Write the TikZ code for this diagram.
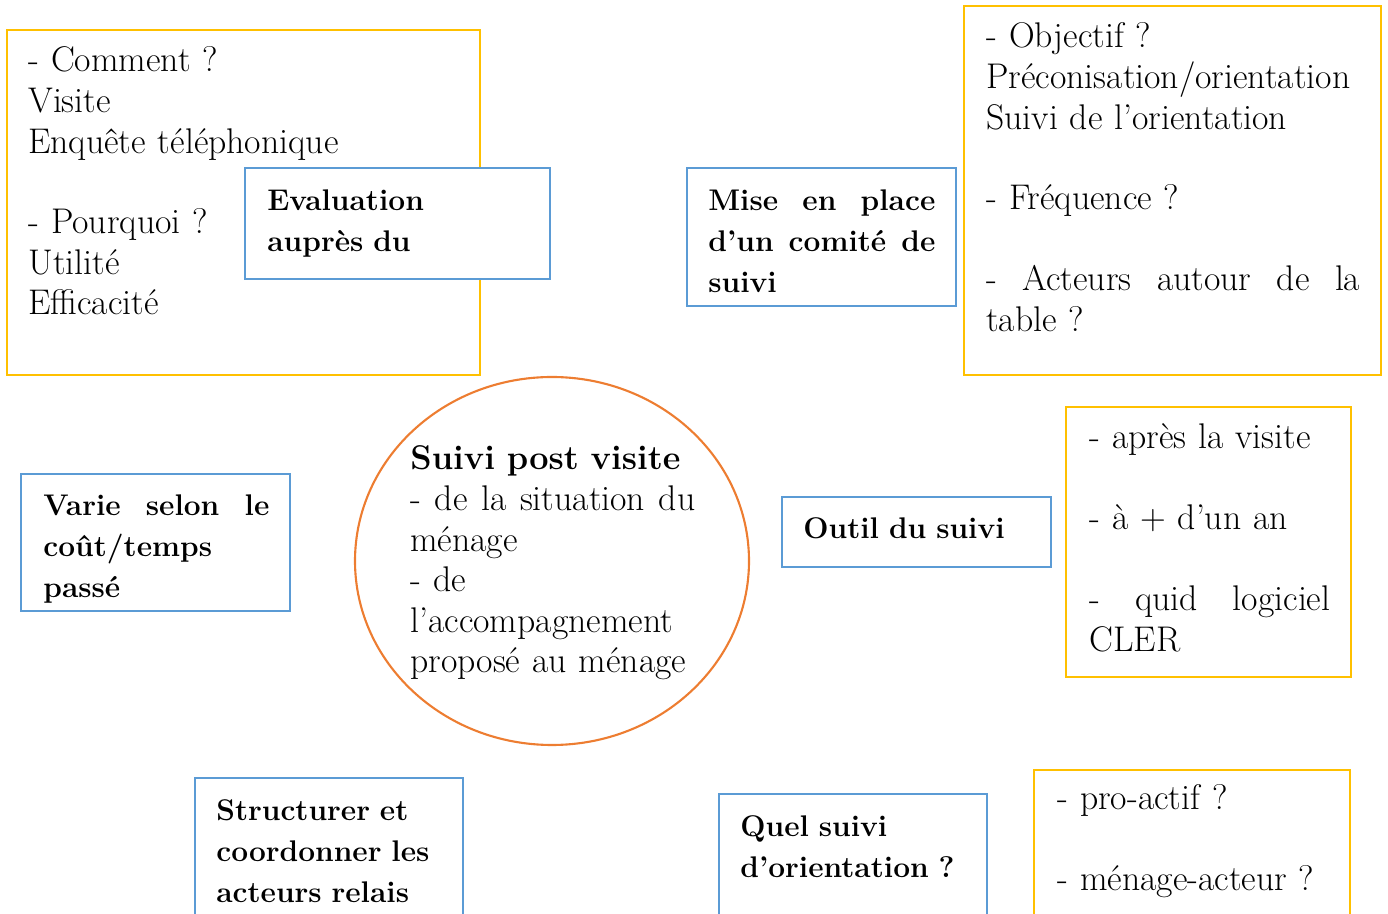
\documentclass[tikz,border=0pt]{standalone}
\usepackage{fontspec}
\definecolor{boxyellow}{HTML}{FFC000}
\definecolor{boxblue}{HTML}{5B9BD5}
\definecolor{ringorange}{HTML}{ED7D31}
\begin{document}
\begin{tikzpicture}[x=0.2mm,y=-0.2mm,
  ybox/.style={draw=boxyellow,line width=1.6pt,fill=white},
  bbox/.style={draw=boxblue,line width=1.6pt,fill=white},
  txt/.style={anchor=base west,inner sep=0pt,align=left,font=\fontsize{20.3}{23.05}\selectfont},
  btxt/.style={txt,font=\fontsize{17}{23.05}\selectfont\bfseries}]
\useasboundingbox (0,0) rectangle (1388,914);

\draw[ybox] (7,30) rectangle (480,375);
\node[txt,text width=88mm] (comment) at (28,72) {- Comment ?\\ Visite\\ Enquête téléphonique\\[23pt] - Pourquoi ?\\ Utilité\\ Efficacité};

\draw[bbox] (245,168) rectangle (550,279);
\node[btxt,text width=52mm] (evaluation) at (267,211) {Evaluation\\ auprès du};

\draw[bbox] (687,168) rectangle (956,306);
\node[btxt,text width=45.4mm] (comite) at (708,211) {Mise\hfill en\hfill place\\ d’un\hfill comité\hfill de\\ suivi};

\draw[ybox] (964,6) rectangle (1381,375);
\node[txt,text width=74.8mm] (objectif) at (986,48) {- Objectif ?\\ Préconisation/orientation\\ Suivi de l’orientation\\[23pt] - Fréquence ?\\[23pt] -\hfill Acteurs\hfill autour\hfill de\hfill la\\ table ?};

\draw[bbox] (21,474) rectangle (290,611);
\node[btxt,text width=45.2mm] (varie) at (43,516) {Varie\hfill selon\hfill le\\ coût/temps\\ passé};

\draw[ringorange,line width=1.2pt] (552,561) ellipse [x radius=197,y radius=184];
\node[txt,text width=57mm] (suivi) at (410,470) {{\fontsize{19.5}{23.05}\selectfont\bfseries Suivi post visite}\\ -\hfill de\hfill la\hfill situation\hfill du\\ ménage\\ - de\\ l’accompagnement\\ proposé au ménage};

\draw[bbox] (782,497) rectangle (1051,567);
\node[btxt,text width=46mm] (outil) at (803,539) {Outil du suivi};

\draw[ybox] (1066,407) rectangle (1351,677);
\node[txt,text width=48.2mm] (apres) at (1089,449) {- après la visite\\[23pt] - à + d’un an\\[23pt] -\hfill quid\hfill logiciel\\ CLER};

\draw[bbox] (195,778) rectangle (463,930);
\node[btxt,text width=46mm] (structurer) at (216,821) {Structurer et\\ coordonner les\\ acteurs relais};

\draw[bbox] (719,794) rectangle (987,930);
\node[btxt,text width=46mm] (orientation) at (740,837) {Quel suivi\\ d’orientation ?};

\draw[ybox] (1034,770) rectangle (1350,930);
\node[txt,text width=54mm] (proactif) at (1057,810) {- pro-actif ?\\[23pt] - ménage-acteur ?};
\end{tikzpicture}
\end{document}
